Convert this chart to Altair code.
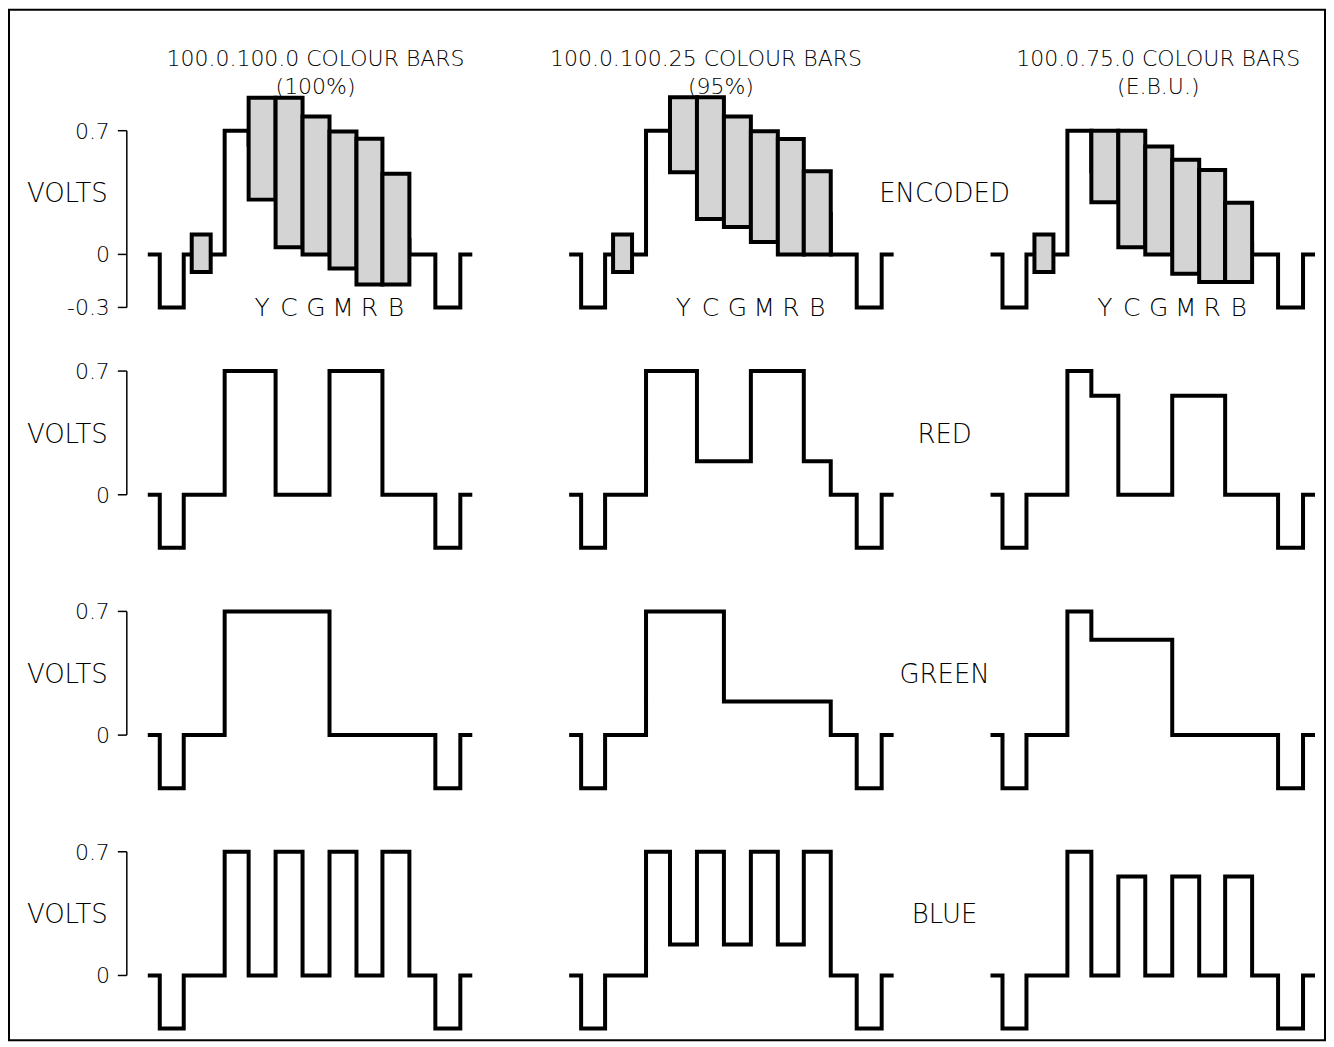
import altair as alt
import pandas as pd

# ---------------- values ----------------
TITLE_LINE1 = ["100.0.100.0 COLOUR BARS", "100.0.100.25 COLOUR BARS", "100.0.75.0 COLOUR BARS"]
TITLE_LINE2 = ["(100%)", "(95%)", "(E.B.U.)"]
TITLE1_T = [33.2, 27.0, 33.2]      # centre of title line 1 (µs, panel time)
TITLE2_T = [33.2, 30.0, 33.2]      # centre of title line 2
SIGNALS = ["ENCODED", "RED", "GREEN", "BLUE"]
BAR_LETTERS = ["Y", "C", "G", "M", "R", "B"]

# timing of one line (µs from the start of each trace)
SYNC_IN = [2.0, 6.8]
BURST_SPAN = [8.4, 12.2]
WHITE_START = 15.0
BAR_EDGES = [19.8, 25.2, 30.6, 36.0, 41.4, 46.6, 52.0]
SYNC_OUT = [57.2, 62.2]
TRACE_END = 64.2

SYNC_LEVEL = -0.30
BURST_LEVELS = [-0.10, 0.113]
WHITE_LEVEL = 0.70

# encoded signal: chroma envelope of each bar (top, bottom) and hidden luminance
ENC_TOP_100 = [0.886, 0.886, 0.78, 0.695, 0.655, 0.457]
ENC_BOT_100 = [0.31, 0.04, 0.0, -0.08, -0.17, -0.17]
ENC_TOP_95 = [0.889, 0.889, 0.78, 0.697, 0.653, 0.47]
ENC_BOT_95 = [0.465, 0.20, 0.155, 0.07, 0.0, 0.0]
ENC_TOP_EBU = [0.70, 0.70, 0.61, 0.536, 0.478, 0.292]
ENC_BOT_EBU = [0.295, 0.04, 0.0, -0.11, -0.156, -0.156]
LUMA_100 = [0.62, 0.49, 0.41, 0.29, 0.21, 0.08]
LUMA_95 = [0.64, 0.54, 0.48, 0.40, 0.33, 0.23]
LUMA_EBU = [0.47, 0.37, 0.31, 0.22, 0.16, 0.06]

# R, G, B levels: white, Y, C, G, M, R, B
RED_100 = [0.70, 0.70, 0.00, 0.00, 0.70, 0.70, 0.00]
RED_95 = [0.70, 0.70, 0.19, 0.19, 0.70, 0.70, 0.19]
RED_EBU = [0.70, 0.56, 0.00, 0.00, 0.56, 0.56, 0.00]
GREEN_100 = [0.70, 0.70, 0.70, 0.70, 0.00, 0.00, 0.00]
GREEN_95 = [0.70, 0.70, 0.70, 0.19, 0.19, 0.19, 0.19]
GREEN_EBU = [0.70, 0.54, 0.54, 0.54, 0.00, 0.00, 0.00]
BLUE_100 = [0.70, 0.00, 0.70, 0.00, 0.70, 0.00, 0.70]
BLUE_95 = [0.70, 0.175, 0.70, 0.175, 0.70, 0.175, 0.70]
BLUE_EBU = [0.70, 0.00, 0.56, 0.00, 0.56, 0.00, 0.56]

AXIS_VALUES_ENC = [0.7, 0.0, -0.3]
AXIS_LABELS_ENC = ["0.7", "0", "-0.3"]
AXIS_VALUES_RGB = [0.7, 0.0]
AXIS_LABELS_RGB = ["0.7", "0"]

# ---------------- layout (not data) ----------------
COL_STEP = 84.4          # µs between the three columns of traces
ROW_STEP = 1.36          # volts between the four rows of traces
W, H = 1318, 1032
X_DOMAIN = [-28.2, -28.2 + W / 5.0]
V_MAX = (254 - 9) / 177.0
Y_DOMAIN = [V_MAX - H / 177.0, V_MAX]
AXIS_T, TICK_T, TICKLABEL_T, VOLTS_T = -4.6, -6.4, -8.0, -8.4
ROWLABEL_COL, ROWLABEL_T, LABEL_V = 1, 74.8, 0.34
LETTER_V, TITLE1_V, TITLE2_V = -0.305, 1.107, 0.946
FONT = "DejaVu Sans"
FW = 200

ENC_TOP = [ENC_TOP_100, ENC_TOP_95, ENC_TOP_EBU]
ENC_BOT = [ENC_BOT_100, ENC_BOT_95, ENC_BOT_EBU]
LUMA = [LUMA_100, LUMA_95, LUMA_EBU]
RGB = {"RED": [RED_100, RED_95, RED_EBU],
       "GREEN": [GREEN_100, GREEN_95, GREEN_EBU],
       "BLUE": [BLUE_100, BLUE_95, BLUE_EBU]}

# ---------------- tables ----------------
line_rows = []
for c in range(3):
    for r, sig in enumerate(SIGNALS):
        levels = [WHITE_LEVEL] + LUMA[c] if sig == "ENCODED" else RGB[sig][c]
        pts = [(0.0, 0.0), (SYNC_IN[0], SYNC_LEVEL), (SYNC_IN[1], 0.0), (WHITE_START, levels[0])]
        pts += [(BAR_EDGES[i], levels[i + 1]) for i in range(6)]
        pts += [(BAR_EDGES[6], 0.0), (SYNC_OUT[0], SYNC_LEVEL), (SYNC_OUT[1], 0.0), (TRACE_END, 0.0)]
        for i, (t, v) in enumerate(pts):
            line_rows.append(dict(col=c, row=r, series=f"{c}-{r}", i=i, t=t, v=v))
line_df = pd.DataFrame(line_rows)

bar_rows = []
for c in range(3):
    bar_rows.append(dict(col=c, row=0, name="", kind="burst", t1=BURST_SPAN[0], t2=BURST_SPAN[1],
                         top=BURST_LEVELS[1], bot=BURST_LEVELS[0]))
    for k, nm in enumerate(BAR_LETTERS):
        bar_rows.append(dict(col=c, row=0, name=nm, kind="bar", t1=BAR_EDGES[k], t2=BAR_EDGES[k + 1],
                             top=ENC_TOP[c][k], bot=ENC_BOT[c][k]))
bar_df = pd.DataFrame(bar_rows)

title_rows = []
for c in range(3):
    title_rows.append(dict(col=c, row=0, t=TITLE1_T[c], v=TITLE1_V, text=TITLE_LINE1[c]))
    title_rows.append(dict(col=c, row=0, t=TITLE2_T[c], v=TITLE2_V, text=TITLE_LINE2[c]))
title_df = pd.DataFrame(title_rows)

label_rows = []
for r, sig in enumerate(SIGNALS):
    label_rows.append(dict(col=ROWLABEL_COL, row=r, t=ROWLABEL_T, v=LABEL_V, text=sig, align="center"))
    label_rows.append(dict(col=0, row=r, t=VOLTS_T, v=LABEL_V, text="VOLTS", align="right"))
label_df = pd.DataFrame(label_rows)

tick_rows, spine_rows = [], []
for r in range(4):
    vals = AXIS_VALUES_ENC if r == 0 else AXIS_VALUES_RGB
    labs = AXIS_LABELS_ENC if r == 0 else AXIS_LABELS_RGB
    for v, lab in zip(vals, labs):
        tick_rows.append(dict(col=0, row=r, v=v, label=lab))
    spine_rows.append(dict(col=0, row=r, vtop=max(vals), vbot=min(vals)))
tick_df = pd.DataFrame(tick_rows)
spine_df = pd.DataFrame(spine_rows)

# ---------------- chart ----------------
XS = alt.Scale(domain=X_DOMAIN, nice=False, zero=False)
YS = alt.Scale(domain=Y_DOMAIN, nice=False, zero=False)


def X(f):
    return alt.X(f, type="quantitative", scale=XS, axis=None)


def Y(f):
    return alt.Y(f, type="quantitative", scale=YS, axis=None)


XP = f"datum.t + datum.col * {COL_STEP}"
YP = f"datum.v - datum.row * {ROW_STEP}"

lines = alt.Chart(line_df).mark_line(
    interpolate="step-after", color="black", strokeWidth=4, strokeJoin="miter", strokeCap="square"
).transform_calculate(xp=XP, yp=YP).encode(
    x=X("xp"), y=Y("yp"), detail="series:N", order="i:Q")

bars = alt.Chart(bar_df).mark_rect(
    fill="#d4d4d4", stroke="black", strokeWidth=4, strokeJoin="miter"
).transform_calculate(
    xa=f"datum.t1 + datum.col * {COL_STEP}", xb=f"datum.t2 + datum.col * {COL_STEP}",
    ya=f"datum.top - datum.row * {ROW_STEP}", yb=f"datum.bot - datum.row * {ROW_STEP}"
).encode(x=X("xa"), x2="xb:Q", y=Y("ya"), y2="yb:Q")

letters = alt.Chart(bar_df).transform_filter("datum.kind == 'bar'").transform_calculate(
    xm=f"(datum.t1 + datum.t2) / 2 + datum.col * {COL_STEP}",
    ym=f"{LETTER_V} - datum.row * {ROW_STEP}"
).mark_text(font=FONT, fontWeight=FW, fontSize=25, color="black", baseline="middle", align="center").encode(
    x=X("xm"), y=Y("ym"), text="name:N")

titles = alt.Chart(title_df).transform_calculate(xp=XP, yp=YP).mark_text(
    font=FONT, fontWeight=FW, fontSize=22, color="black", baseline="middle", align="center"
).encode(x=X("xp"), y=Y("yp"), text="text:N")

row_labels = alt.Chart(label_df).transform_filter("datum.align == 'center'").transform_calculate(
    xp=XP, yp=YP).mark_text(font=FONT, fontWeight=FW, fontSize=26, color="black", baseline="middle",
                            align="center"
).encode(x=X("xp"), y=Y("yp"), text="text:N")

volts = alt.Chart(label_df).transform_filter("datum.align == 'right'").transform_calculate(
    xp=XP, yp=YP).mark_text(font=FONT, fontWeight=FW, fontSize=26, color="black", baseline="middle",
                            align="right"
).encode(x=X("xp"), y=Y("yp"), text="text:N")

spine = alt.Chart(spine_df).transform_calculate(
    xp=f"{AXIS_T} + datum.col * {COL_STEP}",
    ya=f"datum.vtop - datum.row * {ROW_STEP}", yb=f"datum.vbot - datum.row * {ROW_STEP}"
).mark_rule(color="black", strokeWidth=1.5).encode(x=X("xp"), y=Y("ya"), y2="yb:Q")

ticks = alt.Chart(tick_df).transform_calculate(
    xa=f"{TICK_T} + datum.col * {COL_STEP}", xb=f"{AXIS_T} + datum.col * {COL_STEP}", yp=YP
).mark_rule(color="black", strokeWidth=1.5).encode(x=X("xa"), x2="xb:Q", y=Y("yp"))

tick_labels = alt.Chart(tick_df).transform_calculate(
    xp=f"{TICKLABEL_T} + datum.col * {COL_STEP}", yp=YP
).mark_text(font=FONT, fontWeight=FW, fontSize=22, color="black", baseline="middle", align="right",
            dy=1).encode(x=X("xp"), y=Y("yp"), text="label:N")

chart = alt.layer(
    lines, bars, letters, titles, row_labels, volts, spine, ticks, tick_labels
).properties(
    width=W, height=H, padding=1, background="white",
    autosize=alt.AutoSizeParams(type="none"),
).configure_view(stroke="black", strokeWidth=2)

chart.save("out.html", embed_options={"renderer": "svg", "actions": False})
